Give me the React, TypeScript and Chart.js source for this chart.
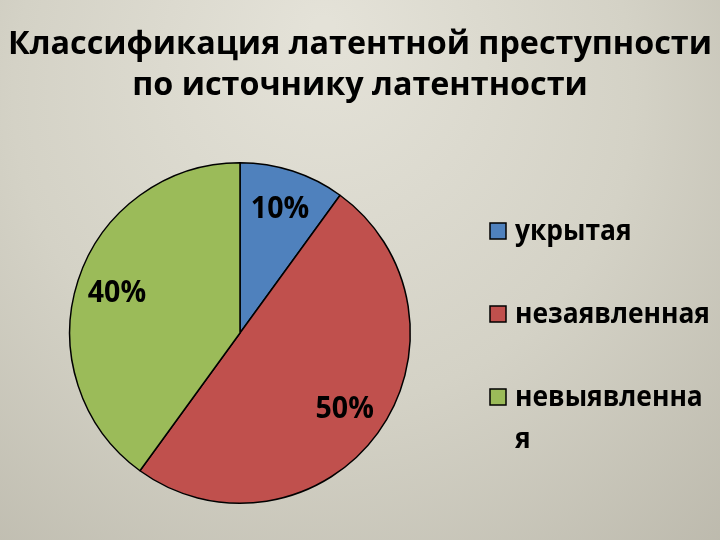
import React, { useEffect, useRef } from "react";
import { Chart, registerables } from "chart.js";

Chart.register(...registerables);

const titleLines = ["Классификация латентной преступности", "по источнику латентности"];
const categories = ["укрытая", "незаявленная", "невыявленная"];
const legendLines = [["укрытая"], ["незаявленная"], ["невыявленна", "я"]];
const values = [10, 50, 40];
const colors = ["#4F81BD", "#C0504D", "#9BBB59"];

const FONT = "'Open Sans', 'DejaVu Sans', sans-serif";

const decorPlugin = {
  id: "decor",
  beforeDraw(chart: any) {
    const { ctx, width, height } = chart;
    ctx.save();
    const g = ctx.createRadialGradient(width * 0.45, height * 0.05, 10, width * 0.45, height * 0.3, width * 0.85);
    g.addColorStop(0, "#e4e2d8");
    g.addColorStop(0.5, "#d4d2c6");
    g.addColorStop(1, "#b8b5a8");
    ctx.fillStyle = g;
    ctx.fillRect(0, 0, width, height);

    // title
    ctx.fillStyle = "#000";
    ctx.textAlign = "center";
    ctx.textBaseline = "middle";
    ctx.font = `bold 33px ${FONT}`;
    const w1 = ctx.measureText(titleLines[0]).width;
    const sx = 704 / w1;
    ctx.save();
    ctx.translate(360, 0);
    ctx.scale(sx, 1);
    ctx.fillText(titleLines[0], 0, 45);
    ctx.fillText(titleLines[1], 0, 86);
    ctx.restore();
    ctx.restore();
  },
  afterDraw(chart: any) {
    const { ctx } = chart;
    const meta = chart.getDatasetMeta(0);
    const ds = chart.data.datasets[0];
    ctx.save();
    ctx.fillStyle = "#000";
    ctx.textAlign = "center";
    ctx.textBaseline = "middle";
    ctx.font = `bold 30px ${FONT}`;
    const total = ds.data.reduce((a: number, b: number) => a + b, 0);
    meta.data.forEach((arc: any, i: number) => {
      const p = arc.getProps(["x", "y", "startAngle", "endAngle", "outerRadius"], true);
      const mid = (p.startAngle + p.endAngle) / 2;
      const r = p.outerRadius * 0.76;
      const pct = Math.round((ds.data[i] / total) * 100) + "%";
      ctx.save();
      ctx.translate(p.x + Math.cos(mid) * r, p.y + Math.sin(mid) * r);
      ctx.scale(0.95, 1);
      ctx.fillText(pct, 0, 0);
      ctx.restore();
    });

    // legend
    const lx = 490, boxS = 16;
    const ys = [231, 314, 397];
    ctx.textAlign = "left";
    ctx.font = `bold 28px ${FONT}`;
    const wRef = ctx.measureText(legendLines[1][0]).width;
    const lsx = 195 / wRef;
    chart.data.labels.forEach((_: string, i: number) => {
      const y = ys[i];
      ctx.fillStyle = ds.backgroundColor[i];
      ctx.fillRect(lx, y - boxS / 2, boxS, boxS);
      ctx.strokeStyle = "#000";
      ctx.lineWidth = 1.5;
      ctx.strokeRect(lx, y - boxS / 2, boxS, boxS);
      ctx.fillStyle = "#000";
      legendLines[i].forEach((t, j) => {
        ctx.save();
        ctx.translate(515, y + 1 + j * 42);
        ctx.scale(lsx, 1);
        ctx.fillText(t, 0, 0);
        ctx.restore();
      });
    });
    ctx.restore();
  },
};

export default function App() {
  const ref = useRef<HTMLCanvasElement | null>(null);
  useEffect(() => {
    if (!ref.current) return;
    const chart = new Chart(ref.current, {
      type: "pie",
      data: {
        labels: categories,
        datasets: [
          {
            data: values,
            backgroundColor: colors,
            borderColor: "#000",
            borderWidth: 1.5,
          },
        ],
      },
      options: {
        responsive: false,
        animation: false,
        layout: { padding: { left: 69, right: 309, top: 162, bottom: 36 } },
        plugins: {
          legend: { display: false },
          title: { display: false },
          tooltip: { enabled: false },
        },
      },
      plugins: [decorPlugin],
    });
    return () => chart.destroy();
  }, []);
  return (
    <div style={{ position: "fixed", left: 0, top: 0, width: 720, height: 540 }}>
      <canvas ref={ref} width={720} height={540} style={{ width: 720, height: 540, display: "block" }} />
    </div>
  );
}
